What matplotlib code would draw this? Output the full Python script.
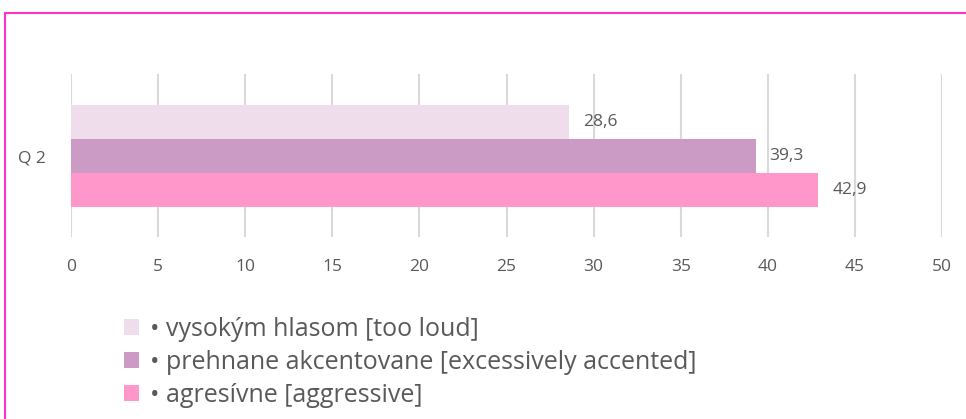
import matplotlib.pyplot as plt
from matplotlib.patches import Patch, Rectangle

# data
categories = ['• vysokým hlasom [too loud]',
              '• prehnane akcentovane [excessively accented]',
              '• agresívne [aggressive]']
values = [28.6, 39.3, 42.9]
colors = ['#F0DDEC', '#CC9BC5', '#FF97CA']
group_label = 'Q 2'
xticks = [0, 5, 10, 15, 20, 25, 30, 35, 40, 45, 50]

text_color = '#595959'
plt.rcParams['font.family'] = ['Open Sans', 'DejaVu Sans']

fig = plt.figure(figsize=(9.66, 4.19), dpi=100)
ax = fig.add_axes([71/966, 1-237/419, (942-71)/966, (237-74)/419])

ypos = [0, 1, 2]
ax.barh(ypos, values, height=1.0, color=colors, zorder=3)
for y, v in zip(ypos, values):
    ax.annotate(f'{v:.1f}'.replace('.', ','), (v, y), xytext=(10, 0),
                textcoords='offset points', va='center', ha='left',
                fontsize=12.5, color=text_color)

ax.set_xlim(0, 50)
ax.set_ylim(3.38, -1.41)
ax.set_xticks(xticks)
ax.set_xticklabels([str(t) for t in xticks])
ax.set_yticks([1])
ax.set_yticklabels([group_label])
ax.tick_params(axis='both', length=0, labelsize=12.5, labelcolor=text_color)
ax.tick_params(axis='x', pad=16)
ax.tick_params(axis='y', pad=18)
ax.grid(axis='x', color='#D9D9D9', linewidth=1.5, zorder=0)
for s in ax.spines.values():
    s.set_visible(False)

# legend
handles = [Patch(facecolor=c, edgecolor='none') for c in colors]
fig.legend(handles, categories, loc='upper left', bbox_to_anchor=(124/966, 1-317/419),
           frameon=False, fontsize=18, labelcolor=text_color,
           handlelength=0.6, handleheight=0.6, handletextpad=0.42,
           labelspacing=0.32, borderaxespad=0, borderpad=0)

# border around chart area
fig.add_artist(Rectangle((5/966, -0.1), 1.2, 1-13/419+0.1, transform=fig.transFigure,
                         fill=False, edgecolor='#FF33CC', linewidth=1.5))

fig.savefig('out.png', dpi=100)
